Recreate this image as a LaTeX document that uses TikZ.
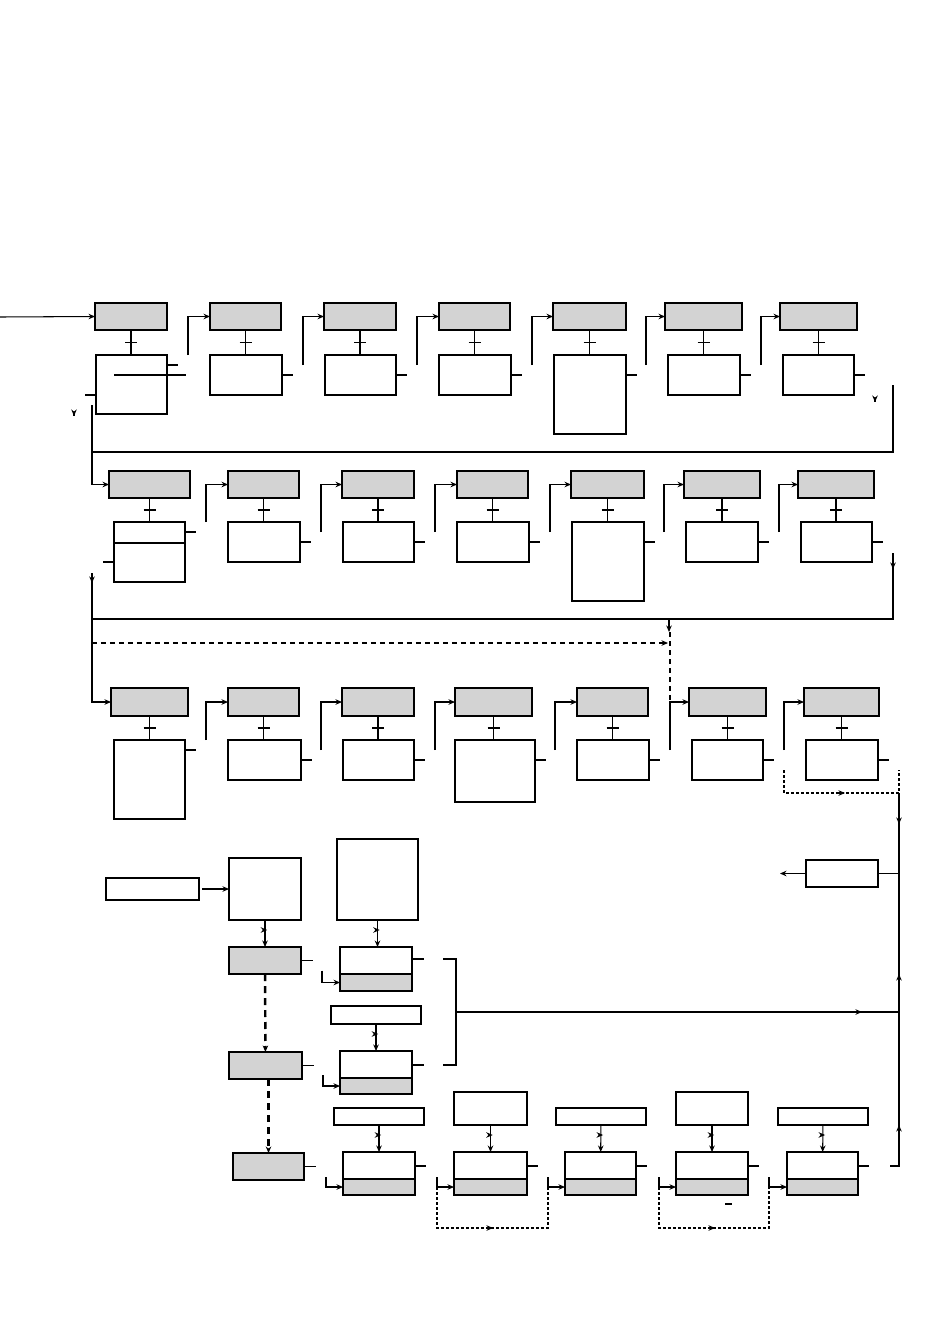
\documentclass[tikz,border=0pt]{standalone}
\usetikzlibrary{arrows.meta,fit,calc,decorations.markings}
\definecolor{boxgray}{RGB}{211,211,211}

\begin{document}
\begin{tikzpicture}[x=0.02cm,y=-0.02cm,line width=0.6pt,
  >={Stealth[length=1.3mm,width=1.1mm]},
  box/.style={draw,inner sep=0pt,outer sep=0pt},
  gbox/.style={box,fill=boxgray},
  crossbar/.style={decoration={markings,mark=at position #1 with {\draw[line width=0.6pt,solid] (0,-0.12cm) -- (0,0.12cm);}},postaction=decorate},
  barlet/.style={decoration={markings,mark=at position #1 with {\draw[line width=0.6pt,solid] (0,-0.045cm) -- (0,0.045cm);}},postaction=decorate},
  dashline/.style={dash pattern=on 1mm off 0.8mm},
  dotline/.style={line width=1.3pt,dash pattern=on 0.6mm off 0.4mm},
  thickdash/.style={line width=1.4pt,dash pattern=on 1.4mm off 1mm}]
  \useasboundingbox (0,0) rectangle (950,1339);

  % first row
  \node[gbox,fit={(95,303) (167,330)}] (g11) {};
  \node[gbox,fit={(210,303) (281,330)}] (g12) {};
  \node[gbox,fit={(324,303) (396,330)}] (g13) {};
  \node[gbox,fit={(439,303) (510,330)}] (g14) {};
  \node[gbox,fit={(553,303) (626,330)}] (g15) {};
  \node[gbox,fit={(665,303) (742,330)}] (g16) {};
  \node[gbox,fit={(780,303) (857,330)}] (g17) {};
  \node[box,fit={(96,355) (167,414)}] (w11) {};
  \node[box,fit={(210,355) (282,395)}] (w12) {};
  \node[box,fit={(325,355) (396,395)}] (w13) {};
  \node[box,fit={(439,355) (511,395)}] (w14) {};
  \node[box,fit={(554,355) (626,434)}] (w15) {};
  \node[box,fit={(668,355) (740,395)}] (w16) {};
  \node[box,fit={(783,355) (854,395)}] (w17) {};
  \coordinate (in) at (0,317);
  \draw[->] (in) -- (g11.west);
  \draw[crossbar=0.5] (g11.south) -- (g11.south |- w11.north);
  \draw[crossbar=0.5] (g12.south) -- (g12.south |- w12.north);
  \draw[crossbar=0.5] (g13.south) -- (g13.south |- w13.north);
  \draw[crossbar=0.5] (g14.south) -- (g14.south |- w14.north);
  \draw[crossbar=0.5] (g15.south) -- (g15.south |- w15.north);
  \draw[crossbar=0.5] (g16.south) -- (g16.south |- w16.north);
  \draw[crossbar=0.5] (g17.south) -- (g17.south |- w17.north);
  \draw ($(w11.north east)+(0,10)$) -- ++(11,0);
  \draw ($(w11.north west)+(18,20)$) -- ($(w11.north east)+(19,20)$);
  \draw ($(w11.north west)+(-11,40)$) -- ++(11,0);
  \draw ($(w12.north east)+(0,20)$) -- ++(11,0);
  \draw ($(w13.north east)+(0,20)$) -- ++(11,0);
  \draw ($(w14.north east)+(0,20)$) -- ++(11,0);
  \draw ($(w15.north east)+(0,20)$) -- ++(11,0);
  \draw ($(w16.north east)+(0,20)$) -- ++(11,0);
  \draw ($(w17.north east)+(0,20)$) -- ++(11,0);
  \draw[->] ($(w12.north west)+(-22,0)$) |- (g12.west);
  \draw[->] ($(w13.north west)+(-22,10)$) |- (g13.west);
  \draw[->] ($(w14.north west)+(-22,10)$) |- (g14.west);
  \draw[->] ($(w15.north west)+(-22,10)$) |- (g15.west);
  \draw[->] ($(w16.north west)+(-22,10)$) |- (g16.west);
  \draw[->] ($(w17.north west)+(-22,10)$) |- (g17.west);
  \coordinate (r1) at (893,385);
  \coordinate (b1) at (92,452);
  \coordinate (d1) at (92,405);
  \draw (r1) |- (b1);
  \draw[->] (74,415.9) -- (74,416);
  \draw[->] (875,401.9) -- (875,402);

  % second row
  \node[gbox,fit={(109,471) (190,498)}] (g21) {};
  \node[gbox,fit={(228,471) (299,498)}] (g22) {};
  \node[gbox,fit={(342,471) (414,498)}] (g23) {};
  \node[gbox,fit={(457,471) (528,498)}] (g24) {};
  \node[gbox,fit={(571,471) (644,498)}] (g25) {};
  \node[gbox,fit={(684,471) (760,498)}] (g26) {};
  \node[gbox,fit={(798,471) (874,498)}] (g27) {};
  \node[box,fit={(114,522) (185,582)}] (w21) {};
  \node[box,fit={(228,522) (300,562)}] (w22) {};
  \node[box,fit={(343,522) (414,562)}] (w23) {};
  \node[box,fit={(457,522) (529,562)}] (w24) {};
  \node[box,fit={(572,522) (644,601)}] (w25) {};
  \node[box,fit={(686,522) (758,562)}] (w26) {};
  \node[box,fit={(801,522) (872,562)}] (w27) {};
  \draw[->] (d1) |- (g21.west);
  \draw[crossbar=0.5] (g21.south) -- (g21.south |- w21.north);
  \draw[crossbar=0.5] (g22.south) -- (g22.south |- w22.north);
  \draw[crossbar=0.5] (g23.south) -- (g23.south |- w23.north);
  \draw[crossbar=0.5] (g24.south) -- (g24.south |- w24.north);
  \draw[crossbar=0.5] (g25.south) -- (g25.south |- w25.north);
  \draw[crossbar=0.5] (g26.south) -- (g26.south |- w26.north);
  \draw[crossbar=0.5] (g27.south) -- (g27.south |- w27.north);
  \draw ($(w21.north east)+(0,10)$) -- ++(11,0);
  \draw ($(w21.north west)+(0,21)$) -- ($(w21.north east)+(0,21)$);
  \draw ($(w21.north west)+(-11,40)$) -- ++(11,0);
  \draw ($(w22.north east)+(0,20)$) -- ++(11,0);
  \draw ($(w23.north east)+(0,20)$) -- ++(11,0);
  \draw ($(w24.north east)+(0,20)$) -- ++(11,0);
  \draw ($(w25.north east)+(0,20)$) -- ++(11,0);
  \draw ($(w26.north east)+(0,20)$) -- ++(11,0);
  \draw ($(w27.north east)+(0,20)$) -- ++(11,0);
  \draw[->] ($(w22.north west)+(-22,0)$) |- (g22.west);
  \draw[->] ($(w23.north west)+(-22,10)$) |- (g23.west);
  \draw[->] ($(w24.north west)+(-22,10)$) |- (g24.west);
  \draw[->] ($(w25.north west)+(-22,10)$) |- (g25.west);
  \draw[->] ($(w26.north west)+(-22,10)$) |- (g26.west);
  \draw[->] ($(w27.north west)+(-22,10)$) |- (g27.west);
  \coordinate (r2) at (893,553);
  \coordinate (b2) at (92,619);
  \coordinate (d2) at (92,573);
  \draw (r2) |- (b2);
  \draw[->] (893,562) -- (893,569);
  \draw[->] (92,576) -- (92,583);
  \coordinate (e1) at (92,643);
  \coordinate (e2) at (668,643);
  \draw[dashline,->] (e1) -- (e2);
  \draw[->] (669,619) -- (669,632);
  \draw[dashline] (670,632) -- (670,702);

  % third row
  \node[gbox,fit={(111,688) (188,716)}] (g31) {};
  \node[gbox,fit={(228,688) (299,716)}] (g32) {};
  \node[gbox,fit={(342,688) (414,716)}] (g33) {};
  \node[gbox,fit={(455,688) (532,716)}] (g34) {};
  \node[gbox,fit={(577,688) (648,716)}] (g35) {};
  \node[gbox,fit={(689,688) (766,716)}] (g36) {};
  \node[gbox,fit={(804,688) (879,716)}] (g37) {};
  \node[box,fit={(114,740) (185,819)}] (w31) {};
  \node[box,fit={(228,740) (301,780)}] (w32) {};
  \node[box,fit={(343,740) (414,780)}] (w33) {};
  \node[box,fit={(455,740) (535,802)}] (w34) {};
  \node[box,fit={(577,740) (649,780)}] (w35) {};
  \node[box,fit={(692,740) (763,780)}] (w36) {};
  \node[box,fit={(806,740) (878,780)}] (w37) {};
  \draw[->] (d2) |- (g31.west);
  \draw[crossbar=0.5] (g31.south) -- (g31.south |- w31.north);
  \draw[crossbar=0.5] (g32.south) -- (g32.south |- w32.north);
  \draw[crossbar=0.5] (g33.south) -- (g33.south |- w33.north);
  \draw[crossbar=0.5] (g34.south) -- (g34.south |- w34.north);
  \draw[crossbar=0.5] (g35.south) -- (g35.south |- w35.north);
  \draw[crossbar=0.5] (g36.south) -- (g36.south |- w36.north);
  \draw[crossbar=0.5] (g37.south) -- (g37.south |- w37.north);
  \draw ($(w31.north east)+(0,10)$) -- ++(11,0);
  \draw ($(w32.north east)+(0,20)$) -- ++(11,0);
  \draw ($(w33.north east)+(0,20)$) -- ++(11,0);
  \draw ($(w34.north east)+(0,20)$) -- ++(11,0);
  \draw ($(w35.north east)+(0,20)$) -- ++(11,0);
  \draw ($(w36.north east)+(0,20)$) -- ++(11,0);
  \draw ($(w37.north east)+(0,20)$) -- ++(11,0);
  \draw[->] ($(w32.north west)+(-22,0)$) |- (g32.west);
  \draw[->] ($(w33.north west)+(-22,10)$) |- (g33.west);
  \draw[->] ($(w34.north west)+(-20,10)$) |- (g34.west);
  \draw[->] ($(w35.north west)+(-22,10)$) |- (g35.west);
  \draw[->] ($(w36.north west)+(-22,10)$) |- (g36.west);
  \draw[->] ($(w37.north west)+(-22,10)$) |- (g37.west);
  \coordinate (f1) at (784,770);
  \coordinate (f2) at (899,770);
  \draw[dotline] (f1) -- (784,793) -- (899,793) -- (f2);
  \draw[->] (838,793) -- (845,793);

  % right rail
  \coordinate (rr) at (899,793);
  \coordinate (rb) at (899,1166);
  \coordinate (rm) at (899,1012);
  \draw (rr) -- (rb) -- (890,1166);
  \draw[->] (899,817) -- (899,824);
  \draw[->] (899,981) -- (899,974);
  \draw[->] (899,1132) -- (899,1125);
  \node[box,fit={(806,860) (878,887)}] (out) {};
  \draw (out.east) -- (out.east -| rr);
  \draw[->] (out.west) -- ++(-26,0);

  % lower left
  \node[box,line width=1.5pt,fit={(106,878) (199,900)}] (key) {};
  \node[box,fit={(229,858) (301,920)}] (tA) {};
  \node[gbox,fit={(229,947) (301,974)}] (s1) {};
  \node[gbox,fit={(229,1052) (302,1079)}] (s2) {};
  \node[gbox,fit={(233,1153) (304,1180)}] (s3) {};
  \draw[->,shorten <=0.6mm] (key) -- (tA);
  \draw[->,barlet=0.37] (tA) -- (s1);
  \draw[thickdash,->] (s1) -- (s2);
  \draw[thickdash,->] (s3.north |- s2.south) -- (s3.north);
  \draw (s1.east) -- ++(12,0);
  \draw (s2.east) -- ++(12,0);
  \draw (s3.east) -- ++(12,0);

  \node[box,fit={(337,839) (418,920)}] (tE) {};
  \node[box,fit={(340,947) (412,991)}] (p1) {};
  \node[gbox,fit={(340,974) (412,991)}] (p1b) {};
  \node[box,fit={(331,1006) (421,1024)}] (tG) {};
  \node[box,fit={(340,1051) (412,1094)}] (p2) {};
  \node[gbox,fit={(340,1078) (412,1094)}] (p2b) {};
  \draw[->,barlet=0.37] (tE.south) -- (tE.south |- p1.north);
  \draw[->,barlet=0.37] (tG) -- (p2);
  \draw ($(p1.north east)+(0,12)$) -- ++(12,0);
  \draw ($(p2.north east)+(0,14)$) -- ++(12,0);
  \draw[->] ($(p1b.west)+(-18,-12)$) |- (p1b.west);
  \draw[->] ($(p2b.west)+(-17,-11)$) |- (p2b.west);
  \draw (443,959) -| (456,1065) -- (443,1065);
  \draw (456,1012) -- (rm);
  \draw[->] (855,1012) -- (862,1012);

  % bottom row
  \node[box,fit={(334,1108) (424,1125)}] (u1) {};
  \node[box,fit={(454,1092) (527,1125)}] (u2) {};
  \node[box,fit={(556,1108) (646,1125)}] (u3) {};
  \node[box,fit={(676,1092) (748,1125)}] (u4) {};
  \node[box,fit={(778,1108) (868,1125)}] (u5) {};
  \node[box,fit={(343,1152) (415,1195)}] (q1) {};
  \node[box,fit={(454,1152) (527,1195)}] (q2) {};
  \node[box,fit={(565,1152) (636,1195)}] (q3) {};
  \node[box,fit={(676,1152) (748,1195)}] (q4) {};
  \node[box,fit={(787,1152) (858,1195)}] (q5) {};
  \node[gbox,fit={(343,1179) (415,1195)}] (q1b) {};
  \node[gbox,fit={(454,1179) (527,1195)}] (q2b) {};
  \node[gbox,fit={(565,1179) (636,1195)}] (q3b) {};
  \node[gbox,fit={(676,1179) (748,1195)}] (q4b) {};
  \node[gbox,fit={(787,1179) (858,1195)}] (q5b) {};
  \draw[->,barlet=0.37] (u1) -- (q1);
  \draw[->,barlet=0.37] (u2) -- (q2);
  \draw[->,barlet=0.37] (u3) -- (q3);
  \draw[->,barlet=0.37] (u4) -- (q4);
  \draw[->,barlet=0.37] (u5) -- (q5);
  \draw ($(q1.north east)+(0,14)$) -- ++(11,0);
  \draw ($(q2.north east)+(0,14)$) -- ++(11,0);
  \draw ($(q3.north east)+(0,14)$) -- ++(11,0);
  \draw ($(q4.north east)+(0,14)$) -- ++(11,0);
  \draw ($(q5.north east)+(0,14)$) -- ++(11,0);
  \draw[->] ($(q1b.west)+(-17,-10)$) |- (q1b.west);
  \draw[->] ($(q2b.west)+(-17,-10)$) |- (q2b.west);
  \draw[->] ($(q3b.west)+(-17,-10)$) |- (q3b.west);
  \draw[->] ($(q4b.west)+(-17,-10)$) |- (q4b.west);
  \draw[->] ($(q5b.west)+(-18,-10)$) |- (q5b.west);
  \draw[dotline] ($(q2b.west)+(-17,0)$) -- ++(0,41) -| ($(q3b.west)+(-17,0)$);
  \draw[->] (486,1228) -- (493,1228);
  \draw[dotline] ($(q4b.west)+(-17,0)$) -- ++(0,41) -| ($(q5b.west)+(-18,0)$);
  \draw[->] (708,1228) -- (715,1228);
  \draw (725,1204) -- (732,1204);
\end{tikzpicture}
\end{document}
